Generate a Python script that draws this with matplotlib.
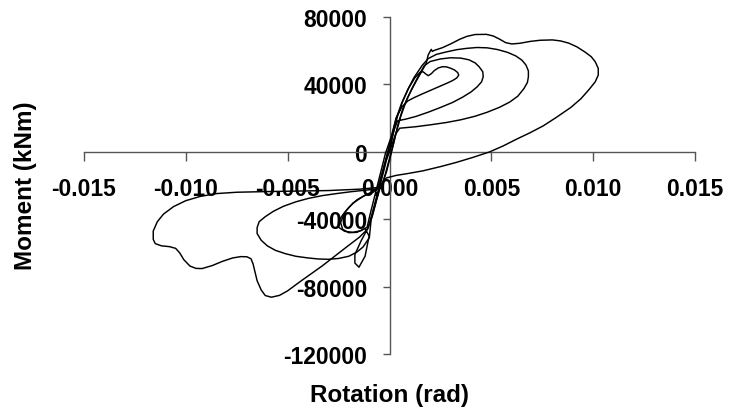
import matplotlib
matplotlib.use("Agg")
import matplotlib.pyplot as plt
from matplotlib.ticker import FixedLocator, FuncFormatter

plt.rcParams['font.family'] = ['Liberation Sans', 'DejaVu Sans']
plt.rcParams['axes.unicode_minus'] = False

# Cyclic moment-rotation response, one list pair per load cycle
rot_cycle1 = [0.0, 0.00018, 0.0004, 0.00065, 0.00095, 0.00125, 0.0015, 0.00165, 0.00178,
              0.0019, 0.00205, 0.0022, 0.0024, 0.0026, 0.0028, 0.003, 0.0032, 0.00335,
              0.0034, 0.0033, 0.0031, 0.0028, 0.0024, 0.002, 0.0016, 0.0012, 0.0009,
              0.0006, 0.00032, 0.0001, -0.0002, -0.00045, -0.0007, -0.00095, -0.0011,
              -0.0014, -0.0018, -0.0022, -0.0025, -0.0025, -0.0023, -0.002, -0.0016,
              -0.0012, -0.0008, -0.0005]
mom_cycle1 = [0, 10500, 21500, 30000, 38000, 44000, 47200, 47500, 46200,
              45200, 46300, 48200, 49800, 50500, 50400, 49600, 48500, 47000,
              45500, 43800, 42300, 40600, 38500, 36400, 34300, 32100, 30200,
              26500, 20000, 9500, -1000, -13000, -25000, -37000, -44800,
              -46800, -47800, -47200, -44800, -41500, -37500, -33000, -28500,
              -25800, -24000, -20500]

rot_cycle2 = [-0.00035, -0.00015, 0.00005, 0.0003, 0.00055, 0.0008, 0.0011, 0.0014,
              0.0017, 0.002, 0.0025, 0.003, 0.0035, 0.0039, 0.0042, 0.0044, 0.00458,
              0.0046, 0.00452, 0.0043, 0.004, 0.0036, 0.0031, 0.0025, 0.0019, 0.0013,
              0.0008, 0.0004, 0.00022, 0.00005, -0.00015, -0.00035, -0.0006, -0.00085,
              -0.00105, -0.0014, -0.0017, -0.0017, -0.0015, -0.0012, -0.0011, -0.001,
              -0.0012, -0.0016, -0.002, -0.0023, -0.0024, -0.0022, -0.0018, -0.0013,
              -0.0009, -0.0004]
mom_cycle2 = [-19000, -12000, -2500, 10000, 21000, 29500, 37500, 44500,
              51000, 53600, 55100, 55800, 55600, 54600, 52800, 50500, 47500,
              44500, 41500, 38500, 35500, 32500, 29300, 26300, 23500, 21000,
              19400, 18400, 13000, 5000, -3500, -13000, -25000, -36500,
              -45000, -53000, -61000, -66000, -68500, -62000, -56000, -50000,
              -45500, -47800, -48000, -46000, -42000, -36000, -30500, -26500,
              -24000, -19500]

rot_cycle3 = [-0.0006, -0.0004, -0.00015, 0.0001, 0.00035, 0.0006, 0.0009, 0.0012,
              0.0016, 0.0019, 0.0023, 0.0028, 0.0033, 0.0038, 0.0043, 0.0048, 0.0053,
              0.0058, 0.0062, 0.0065, 0.0067, 0.00682, 0.00682, 0.00677, 0.0066,
              0.0063, 0.0059, 0.0054, 0.0048, 0.0042, 0.0035, 0.0028, 0.002, 0.0013,
              0.0005, 0.0003, 0.0001, -0.00015, -0.0004, -0.00065, -0.0009, -0.00099,
              -0.0013, -0.0016, -0.002, -0.0025, -0.003, -0.0035, -0.004, -0.0046,
              -0.0051, -0.0056, -0.006, -0.0063, -0.0065, -0.0065, -0.0064, -0.0061,
              -0.0057, -0.0052, -0.0046, -0.004, -0.0033, -0.0026, -0.0019, -0.0012,
              -0.0006]
mom_cycle3 = [-22000, -14000, -3000, 9000, 20500, 29000, 37000, 44000,
              51200, 55300, 57800, 59300, 60600, 61400, 61900, 61700, 60700,
              59000, 56900, 54400, 51500, 48000, 44500, 41100, 37500,
              33000, 29500, 26400, 23500, 21100, 19000, 17400, 16000, 14900,
              14000, 10500, 3500, -5000, -17000, -29000, -40000, -51000,
              -56500, -59500, -62000, -63300, -63800, -63600, -63000, -62000,
              -60500, -58500, -55800, -52500, -48500, -45000, -41500, -38500,
              -35300, -32300, -29700, -27700, -26000, -24800, -23700, -22800,
              -22000]

rot_cycle4 = [-0.0004, -0.0002, 0.0, 0.0002, 0.0004, 0.00065, 0.0009, 0.0012,
              0.0015, 0.0018, 0.0019, 0.00205, 0.0021, 0.0022, 0.0026, 0.003, 0.00345,
              0.0038, 0.0042, 0.00476, 0.0051, 0.0054, 0.0057, 0.006, 0.0064, 0.0069,
              0.0074, 0.008, 0.0084, 0.0088, 0.0092, 0.0096, 0.0099, 0.0101, 0.01025,
              0.01025, 0.0101, 0.0098, 0.0094, 0.0089, 0.0082, 0.00755, 0.0069,
              0.00624, 0.0056, 0.00493, 0.0041, 0.00328, 0.0025, 0.00164, 0.0009,
              0.00033, -0.00015, -0.0004, -0.00062, -0.00085, -0.00107, -0.00148,
              -0.00213, -0.00329, -0.00443, -0.005, -0.0054, -0.0058, -0.0061, -0.0063,
              -0.0065, -0.0066, -0.0067, -0.0068, -0.007, -0.0073, -0.0077, -0.0082,
              -0.0087, -0.0092, -0.0095, -0.0098, -0.0101, -0.0103, -0.0105, -0.0108,
              -0.0112, -0.0115, -0.0116, -0.0116, -0.0114, -0.0111, -0.0106, -0.01,
              -0.0093, -0.0085, -0.0075, -0.006, -0.0045, -0.003, -0.0015, -0.0005]
mom_cycle4 = [-21500, -13000, -4000, 5000, 15500, 25500, 32500, 39500,
              46000, 52500, 57500, 60800, 59600, 60200, 61800, 64000, 66800,
              68500, 69600, 69700, 68700, 66900, 64800, 64000, 64400, 65500,
              66200, 66400, 65800, 64500, 62300, 59200, 56500, 53500, 49500,
              45500, 41500, 37000, 31500, 26300, 20500, 15400, 11300,
              7500, 3600, 0, -3300, -6300, -8800, -11300, -12900,
              -14000, -15500, -19000, -28000, -38500, -45800, -50700,
              -56700, -67600, -77400, -82500, -85200, -86300, -85300, -82000,
              -76500, -71500, -66500, -63500, -62300, -62200, -63000, -65000,
              -67500, -69300, -69200, -67800, -64000, -60000, -57300, -56300,
              -55800, -54500, -52000, -47000, -41500, -37000, -32500, -29000,
              -26500, -24800, -24000, -23600, -23300, -23000, -22200, -21100]

rotation_cycles = [rot_cycle1, rot_cycle2, rot_cycle3, rot_cycle4]
moment_cycles = [mom_cycle1, mom_cycle2, mom_cycle3, mom_cycle4]

x_ticks = [-0.015, -0.010, -0.005, 0.0, 0.005, 0.010, 0.015]
y_ticks = [-120000, -80000, -40000, 0, 40000, 80000]

W, H = 729, 414
fig = plt.figure(figsize=(W / 100, H / 100), dpi=100)
ax = fig.add_axes([84 / W, 1 - 355 / H, (695 - 84) / W, (355 - 18) / H])

for rot, mom in zip(rotation_cycles, moment_cycles):
    ax.plot(rot, mom, color='black', lw=1.05, solid_joinstyle='round', zorder=3)

ax.set_xlim(-0.015, 0.015)
ax.set_ylim(-120000, 80000)

for side in ('top', 'right'):
    ax.spines[side].set_visible(False)
ax.spines['left'].set_position(('data', 0))
ax.spines['bottom'].set_position(('data', 0))
for side in ('left', 'bottom'):
    ax.spines[side].set_color('#555555')
    ax.spines[side].set_linewidth(1.0)

ax.xaxis.set_major_locator(FixedLocator(x_ticks))
ax.yaxis.set_major_locator(FixedLocator(y_ticks))
ax.xaxis.set_major_formatter(FuncFormatter(lambda v, p: f"{v:.3f}"))
ax.yaxis.set_major_formatter(FuncFormatter(lambda v, p: f"{int(round(v))}"))
ax.tick_params(axis='x', direction='out', length=6.5, width=1.0, color='#555555',
               pad=12, labelsize=16.5)
ax.tick_params(axis='y', direction='out', length=5, width=1.0, color='#555555',
               pad=11, labelsize=16.5)
for lab in ax.get_xticklabels() + ax.get_yticklabels():
    lab.set_fontweight('bold')

fig.text(390 / W, 1 - 396 / H, 'Rotation (rad)', ha='center', va='center',
         fontsize=17.5, fontweight='bold')
fig.text(26 / W, 1 - 186 / H, 'Moment (kNm)', ha='center', va='center',
         rotation=90, fontsize=17.5, fontweight='bold')

fig.savefig('out.png', dpi=100)
